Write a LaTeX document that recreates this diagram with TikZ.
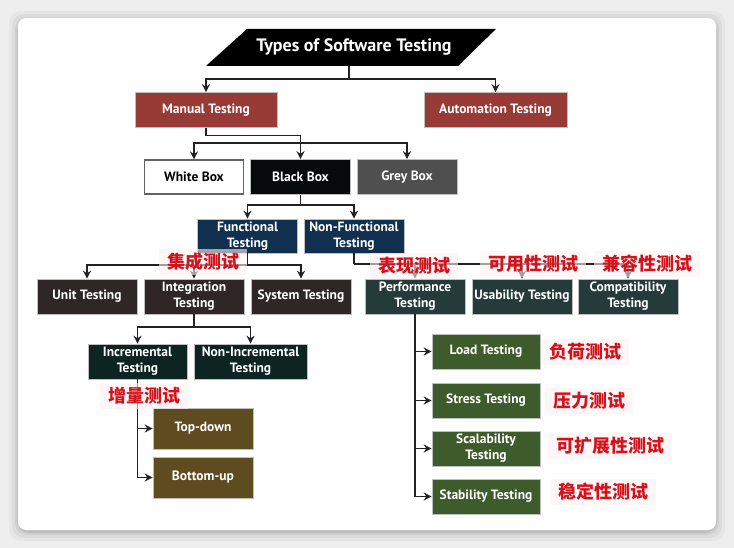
\documentclass[tikz,border=0pt]{standalone}
\usepackage{fontspec}
\setmainfont{PT Sans}
\newfontfamily\cjk{Noto Sans CJK SC}
\usetikzlibrary{arrows.meta}
\definecolor{ink}{HTML}{222222}
\definecolor{bggray}{HTML}{EEEEEE}
\definecolor{manred}{HTML}{983A36}
\definecolor{blackfill}{HTML}{070A0A}
\definecolor{greyfill}{HTML}{4F4F4F}
\definecolor{navy}{HTML}{11304F}
\definecolor{brownfill}{HTML}{2F2627}
\definecolor{incgreen}{HTML}{0D2420}
\definecolor{olive}{HTML}{5E4B1F}
\definecolor{tealfill}{HTML}{253B3A}
\definecolor{leaf}{HTML}{3E5B2B}
\definecolor{zhred}{HTML}{D4121C}
\definecolor{zhpink}{HTML}{FDF2F2}
\tikzset{
  tbox/.style={minimum width=100pt,minimum height=35pt,inner sep=1pt,align=center,
    text=white,font=\bfseries\fontsize{13.5}{16}\selectfont,draw=white!75!black,line width=.6pt},
  zh/.style={text=zhred,fill=zhpink,fill opacity=.6,text opacity=1,inner xsep=8pt,inner ysep=4pt,
    font=\cjk\bfseries\fontsize{18}{20}\selectfont},
  wire/.style={draw=ink,line width=1.3pt},
  link/.style={wire,-{Stealth[length=8pt,width=8pt]}},
}
\begin{document}
\begin{tikzpicture}[x=1pt,y=-1pt]
  \useasboundingbox (0,0) rectangle (734,548);
  \fill[bggray] (0,0) rectangle (734,548);
  \foreach \s/\o in {9/.03,6/.04,3/.06,1/.08}
    \fill[black,opacity=\o,rounded corners=12pt] (18-\s,18-\s+2) rectangle (716+\s,530+\s+2);
  \fill[white,rounded corners=8pt] (18,18) rectangle (716,530);

  \fill[black] (206,66)--(247,29)--(496,29)--(458,66)--cycle;
  \node[text=white,font=\bfseries\fontsize{18}{20}\selectfont] (title) at (354,47)
    {Types of Software Testing};
  \coordinate (titlebase) at (349,66);

  \node[tbox,fill=manred,minimum width=142pt] (manual) at (206,110) {Manual Testing};
  \node[tbox,fill=manred,minimum width=143pt] (auto) at (495.5,110) {Automation Testing};

  \node[tbox,fill=white,text=black,draw=ink!70,line width=1.2pt,
    minimum width=99pt,minimum height=34pt] (white) at (194,177) {White Box};
  \node[tbox,fill=blackfill] (black) at (300.5,177) {Black Box};
  \node[tbox,fill=greyfill] (grey) at (407,177) {Grey Box};

  \node[tbox,fill=navy,minimum height=34pt] (func) at (247.5,236) {Functional\\Testing};
  \node[tbox,fill=navy,minimum height=34pt] (nonfunc) at (354,236) {Non-Functional\\Testing};

  \foreach \nm/\xx/\lab in {unit/87/{Unit Testing},integ/194/{Integration\\Testing},
      system/301/{System Testing}}
    \node[tbox,fill=brownfill] (\nm) at (\xx,296.5) {\lab};
  \foreach \nm/\xx/\lab in {perf/415/{Performance\\Testing},usab/522/{Usability Testing},
      compat/628/{Compatibility\\Testing}}
    \node[tbox,fill=tealfill] (\nm) at (\xx,296.5) {\lab};

  \node[tbox,fill=incgreen,minimum width=99pt] (incr) at (137.5,361.5) {Incremental\\Testing};
  \node[tbox,fill=incgreen,minimum width=113pt] (nonincr) at (250.5,361.5) {Non-Incremental\\Testing};

  \node[tbox,fill=olive,minimum height=41pt] (topdown) at (203,428.5) {Top-down};
  \node[tbox,fill=olive,minimum height=41pt] (bottomup) at (203,477.5) {Bottom-up};

  \coordinate (tj) at (349,79);
  \draw[wire] (titlebase) -- (tj);
  \draw[link] (tj) -| (manual.north);
  \draw[link] (tj) -| (auto.north);

  \coordinate (mj) at (300.5,143);
  \draw[wire] (manual.south) -- ++(0,8) -| (mj);
  \draw[link] (mj) -| (white.north);
  \draw[link] (mj) -- (black.north);
  \draw[link] (mj) -| (grey.north);

  \coordinate (bj) at (300.5,205);
  \draw[wire] (black.south) -- (bj);
  \draw[link] (bj) -| (func.north);
  \draw[link] (bj) -| (nonfunc.north);

  \coordinate (fj) at (247.5,265);
  \draw[wire] (func.south) -- (fj);
  \foreach \nm in {unit,integ,system}
    \draw[link] (fj) -| (\nm.north);

  \coordinate (nj) at (354,264);
  \draw[wire] (nonfunc.south) -- (nj);
  \foreach \nm in {perf,usab,compat}
    \draw[link] (nj) -| (\nm.north);

  \coordinate (ij) at (194,327);
  \draw[wire] (integ.south) -- (ij);
  \draw[link] (ij) -| (incr.north);
  \draw[link] (ij) -| (nonincr.north);

  \draw[link] (incr.south) |- (topdown.west);
  \draw[link] (incr.south) |- (bottomup.west);

  \foreach \nm/\yy/\lab in {load/351.5/{Load Testing},stress/400.5/{Stress Testing},
      scal/448.5/{Scalability\\Testing},stab/496.5/{Stability Testing}}{
    \node[tbox,fill=leaf,minimum width=108pt] (\nm) at (486,\yy) {\lab};
    \draw[link] (perf.south) |- (\nm.west);
  }

  \node[zh] (zhinteg) at (203,262) {集成测试};
  \node[zh] (zhperf) at (414,266) {表现测试};
  \node[zh] (zhusab) at (533,264) {可用性测试};
  \node[zh] (zhcomp) at (647,264) {兼容性测试};
  \node[zh] (zhincr) at (144,396) {增量测试};
  \node[zh] (zhload) at (585,352) {负荷测试};
  \node[zh] (zhstress) at (589,401) {压力测试};
  \node[zh] (zhscal) at (610,446) {可扩展性测试};
  \node[zh] (zhstab) at (603,492) {稳定性测试};
\end{tikzpicture}
\end{document}
